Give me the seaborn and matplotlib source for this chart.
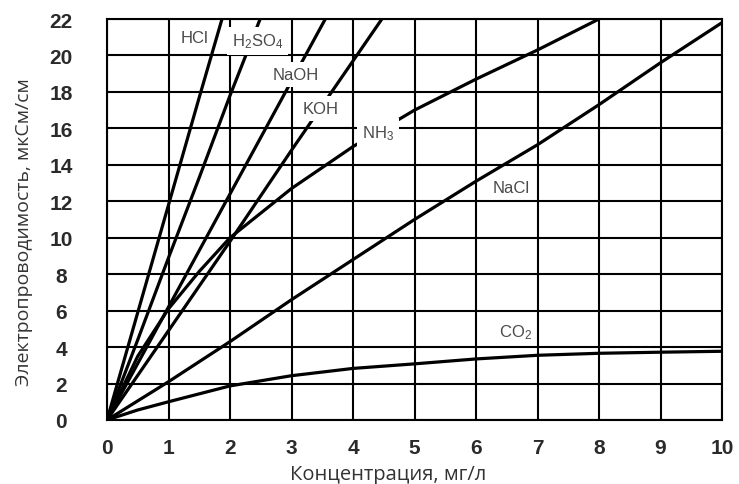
import matplotlib
matplotlib.use("Agg")
import matplotlib.pyplot as plt
import pandas as pd
import seaborn as sns

# Conductivity (µS/cm) against concentration (mg/l) for several solutes
hcl_x = [0, 0.5, 1.0, 1.5, 1.87]
hcl_y = [0, 5.9, 11.8, 17.7, 22.0]

h2so4_x = [0, 0.5, 1.0, 1.5, 2.0, 2.49]
h2so4_y = [0, 4.4, 8.9, 13.3, 17.8, 22.0]

naoh_x = [0, 1, 2, 3, 3.55]
naoh_y = [0, 6.2, 12.4, 18.6, 22.0]

koh_x = [0, 1, 2, 3, 4, 4.47]
koh_y = [0, 4.9, 9.8, 14.8, 19.7, 22.0]

nh3_x = [0, 0.5, 1, 1.5, 2, 3, 4, 5, 6, 7, 8]
nh3_y = [0, 3.5, 6.1, 8.15, 10.0, 12.7, 15.0, 17.0, 18.7, 20.3, 22.0]

nacl_x = [0, 1, 2, 3, 4, 5, 6, 7, 8, 9, 10]
nacl_y = [0, 2.1, 4.3, 6.6, 8.8, 11.0, 13.1, 15.1, 17.3, 19.6, 21.8]

co2_x = [0, 0.5, 1, 2, 3, 4, 5, 6, 7, 8, 9, 10]
co2_y = [0, 0.55, 1.0, 1.87, 2.43, 2.83, 3.08, 3.35, 3.55, 3.66, 3.72, 3.77]

substances = ["HCl", "H$_2$SO$_4$", "NaOH", "KOH", "NH$_3$", "NaCl", "CO$_2$"]
series_x = [hcl_x, h2so4_x, naoh_x, koh_x, nh3_x, nacl_x, co2_x]
series_y = [hcl_y, h2so4_y, naoh_y, koh_y, nh3_y, nacl_y, co2_y]

x_ticks = list(range(0, 11))
y_ticks = list(range(0, 23, 2))

x_title = "Концентрация, мг/л"
y_title = "Электропроводимость, мкСм/см"

# Where each curve name sits (data coords) and whether it masks the lines under it
label_place = {
    "HCl": (1.42, 20.97, False),
    "H$_2$SO$_4$": (2.45, 20.8, True),
    "NaOH": (3.07, 18.96, True),
    "KOH": (3.48, 17.07, True),
    "NH$_3$": (4.41, 15.77, True),
    "NaCl": (6.57, 12.77, False),
    "CO$_2$": (6.64, 4.84, False),
}

frames = []
for name, xs, ys in zip(substances, series_x, series_y):
    frames.append(pd.DataFrame({"conc": xs, "cond": ys, "substance": name}))
df = pd.concat(frames, ignore_index=True)

sns.set_style("white")
plt.rcParams["font.family"] = ["Liberation Sans", "DejaVu Sans"]
plt.rcParams["mathtext.default"] = "regular"

fig = plt.figure(figsize=(7.39, 4.85), dpi=100)
ax = fig.add_axes([107 / 739, 1 - 421 / 485, 615 / 739, 401 / 485])

sns.lineplot(data=df, x="conc", y="cond", units="substance", estimator=None,
             sort=False, color="black", linewidth=2.3, legend=False, ax=ax,
             zorder=3)

ax.set_xlim(0, 10)
ax.set_ylim(0, 22)
ax.set_xticks(x_ticks)
ax.set_yticks(y_ticks)
ax.grid(True, color="black", linewidth=1.5, zorder=1)
ax.set_axisbelow(True)
for sp in ax.spines.values():
    sp.set_color("black")
    sp.set_linewidth(1.5)
    sp.set_visible(True)

ax.tick_params(axis="x", direction="out", length=3, width=1.5, color="black",
               pad=10, labelsize=15, labelcolor="#2a2a2a")
ax.tick_params(axis="y", direction="out", length=5, width=1.5, color="black",
               pad=28, labelsize=15, labelcolor="#2a2a2a")
for t in ax.get_xticklabels() + ax.get_yticklabels():
    t.set_fontweight("bold")
for t in ax.get_yticklabels():
    t.set_horizontalalignment("center")

ax.set_xlabel(x_title, fontsize=14.5, color="#333333", family="Open Sans")
ax.set_ylabel(y_title, fontsize=14, color="#333333", family="Open Sans")
ax.xaxis.set_label_coords(0.457, -0.11)
ax.yaxis.set_label_coords(-0.12, 0.47)

for name in substances:
    lx, ly, masked = label_place[name]
    kw = {}
    if masked:
        kw["bbox"] = dict(boxstyle="square,pad=0.3", facecolor="white",
                          edgecolor="none")
    ax.text(lx, ly, name, ha="center", va="center", fontsize=12,
            color="#4a4a4a", zorder=5, **kw)

fig.savefig("out.png", dpi=100)
